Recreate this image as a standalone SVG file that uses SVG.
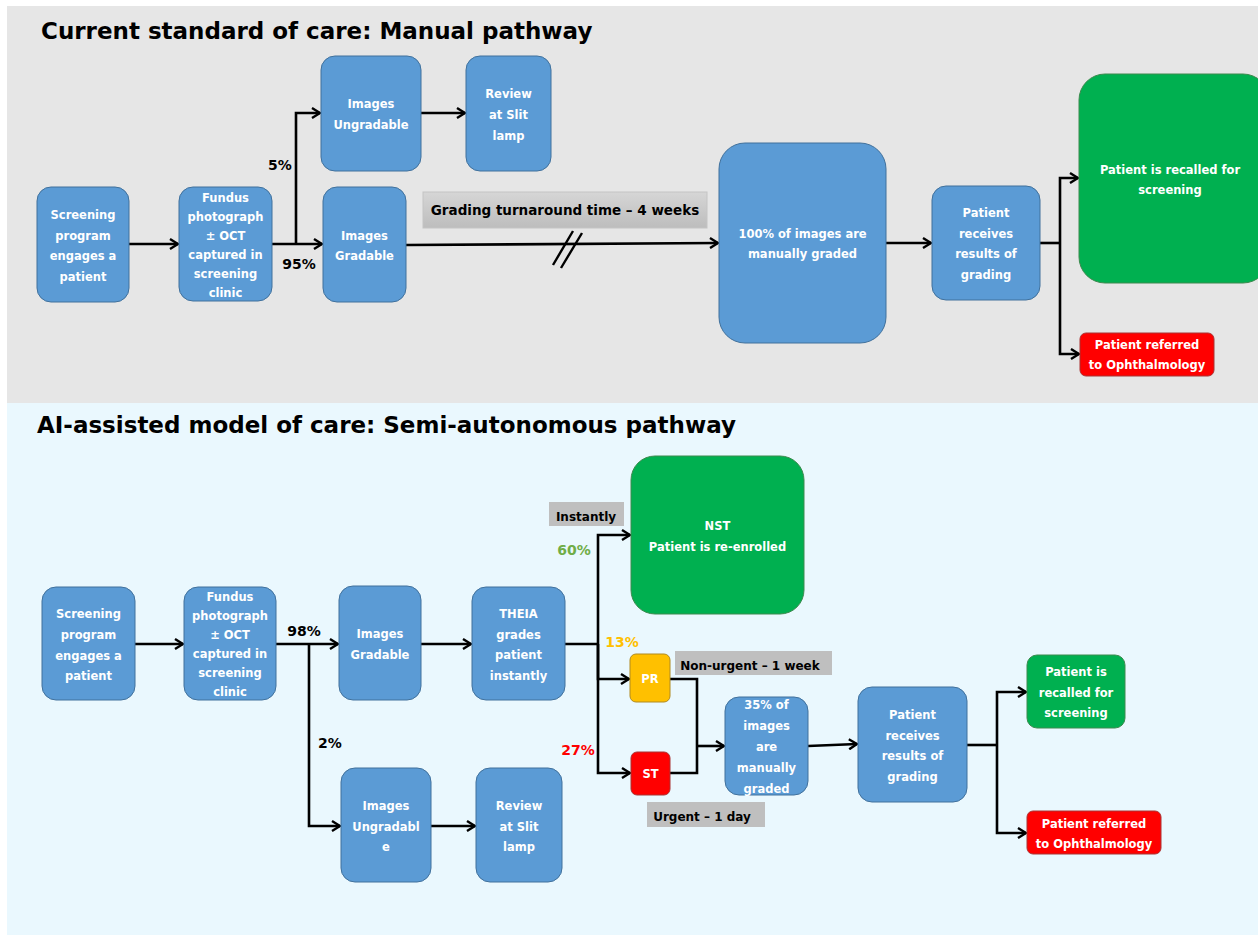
<svg xmlns="http://www.w3.org/2000/svg" width="1258" height="936" viewBox="0 0 1258 936">
<defs>
<marker id="arr" viewBox="0 0 10 12" refX="9" refY="6" markerWidth="10" markerHeight="12" markerUnits="userSpaceOnUse" orient="auto">
<path d="M1,1 L9,6 L1,11" fill="none" stroke="#000" stroke-width="2.4"/>
</marker>
<linearGradient id="gl" x1="0" y1="0" x2="0" y2="1">
<stop offset="0" stop-color="#d6d6d6"/><stop offset="1" stop-color="#bdbdbd"/>
</linearGradient>
</defs>
<style>
text{font-family:"DejaVu Sans",Verdana,sans-serif;font-weight:bold;}
.nt{fill:#fff;font-size:11.5px;text-anchor:middle;}
.bl{fill:#5b9bd5;stroke:#41719c;stroke-width:1;}
.gr{fill:#00b050;stroke:#3c8a4e;stroke-width:1;}
.rd{fill:#ff0000;stroke:#a33;stroke-width:1;}
.am{fill:#ffc000;stroke:#b08a20;stroke-width:1;}
.lb{fill:#bfbfbf;}
.lt{fill:#000;font-size:12px;}
.pc{font-size:14px;}
.title{font-size:23px;fill:#000;}
.c{fill:none;stroke:#000;stroke-width:2.6;}
.ca{fill:none;stroke:#000;stroke-width:2.6;marker-end:url(#arr);}
</style>
<rect x="0" y="0" width="1258" height="936" fill="#fff"/>
<rect x="7" y="6" width="1251" height="397" fill="#e6e6e6"/>
<rect x="7" y="403" width="1251" height="532" fill="#eaf8fe"/>
<text class="title" x="41" y="39">Current standard of care: Manual pathway</text>
<text class="title" x="37" y="433">AI-assisted model of care: Semi-autonomous pathway</text>

<g id="connectors">
<path class="ca" d="M129,244 L178,244"/>
<path class="ca" d="M272,244 L322,244"/>
<path class="ca" d="M296,244 L296,113 L320,113"/>
<path class="ca" d="M421,113 L465,113"/>
<path class="ca" d="M406,245 L718,243"/>
<path d="M553,265 L573,231 M561,268 L582,233" stroke="#000" stroke-width="2.4" fill="none"/>
<path class="ca" d="M886,243 L931,243"/>
<path class="c" d="M1040,243 L1060,243"/>
<path class="ca" d="M1060,243 L1060,178 L1078,178"/>
<path class="ca" d="M1060,243 L1060,354 L1079,354"/>

<path class="ca" d="M135,644 L183,644"/>
<path class="ca" d="M276,644 L338,644"/>
<path class="ca" d="M309,644 L309,826 L340,826"/>
<path class="ca" d="M431,826 L475,826"/>
<path class="ca" d="M421,644 L471,644"/>
<path class="c" d="M565,644 L598,644"/>
<path class="ca" d="M598,644 L598,535 L630,535"/>
<path class="ca" d="M598,644 L598,679 L629,679"/>
<path class="ca" d="M598,644 L598,773 L630,773"/>
<path class="c" d="M670,679 L697,679 L697,773 L670,773"/>
<path class="ca" d="M697,746 L724,746"/>
<path class="ca" d="M808,746 L857,744"/>
<path class="c" d="M967,745 L997,745"/>
<path class="ca" d="M997,745 L997,692 L1026,692"/>
<path class="ca" d="M997,745 L997,833 L1026,833"/>
</g>

<g id="lbl-pct">
<text class="pc" x="280" y="170" text-anchor="middle">5%</text>
<text class="pc" x="299" y="269" text-anchor="middle">95%</text>
<text class="pc" x="304" y="636" text-anchor="middle">98%</text>
<text class="pc" x="330" y="748" text-anchor="middle">2%</text>
<text class="pc" x="574" y="555" text-anchor="middle" fill="#70ad47">60%</text>
<text class="pc" x="622" y="647" text-anchor="middle" fill="#ffc000">13%</text>
<text class="pc" x="578" y="755" text-anchor="middle" fill="#ff0000">27%</text>
</g>

<g id="lbl-grading">
<rect x="423" y="192" width="284" height="36" fill="url(#gl)" stroke="#c4c4c4"/>
<text class="lt" x="565" y="215" text-anchor="middle" style="font-size:13.5px">Grading turnaround time – 4 weeks</text>
</g>
<g id="lbl-instantly">
<rect class="lb" x="549" y="502" width="75" height="24"/>
<text class="lt" x="586" y="521" text-anchor="middle">Instantly</text>
</g>
<g id="lbl-nonurgent">
<rect class="lb" x="675" y="651" width="157" height="24"/>
<text class="lt" x="750" y="670" text-anchor="middle">Non-urgent – 1 week</text>
</g>
<g id="lbl-urgent">
<rect class="lb" x="647" y="802" width="118" height="25"/>
<text class="lt" x="702" y="821" text-anchor="middle">Urgent – 1 day</text>
</g>

<!-- top nodes -->
<g id="t-screening">
<rect class="bl" x="37" y="187" width="92" height="115" rx="14"/>
<text class="nt" x="83" y="219">Screening</text><text class="nt" x="83" y="240">program</text><text class="nt" x="83" y="260">engages a</text><text class="nt" x="83" y="281">patient</text>
</g>
<g id="t-fundus">
<rect class="bl" x="179" y="187" width="93" height="114" rx="14"/>
<text class="nt" x="225.5" y="202">Fundus</text><text class="nt" x="225.5" y="221">photograph</text><text class="nt" x="225.5" y="240">± OCT</text><text class="nt" x="225.5" y="259">captured in</text><text class="nt" x="225.5" y="278">screening</text><text class="nt" x="225.5" y="297">clinic</text>
</g>
<g id="t-ungradable">
<rect class="bl" x="321" y="56" width="100" height="115" rx="14"/>
<text class="nt" x="371" y="108">Images</text><text class="nt" x="371" y="129">Ungradable</text>
</g>
<g id="t-review">
<rect class="bl" x="466" y="56" width="85" height="115" rx="14"/>
<text class="nt" x="508.5" y="98">Review</text><text class="nt" x="508.5" y="119">at Slit</text><text class="nt" x="508.5" y="140">lamp</text>
</g>
<g id="t-gradable">
<rect class="bl" x="323" y="187" width="83" height="115" rx="14"/>
<text class="nt" x="364.5" y="240">Images</text><text class="nt" x="364.5" y="260">Gradable</text>
</g>
<g id="t-manual">
<rect class="bl" x="719" y="143" width="167" height="200" rx="26"/>
<text class="nt" x="802.5" y="238">100% of images are</text><text class="nt" x="802.5" y="258">manually graded</text>
</g>
<g id="t-receives">
<rect class="bl" x="932" y="186" width="108" height="114" rx="14"/>
<text class="nt" x="986" y="217">Patient</text><text class="nt" x="986" y="238">receives</text><text class="nt" x="986" y="258">results of</text><text class="nt" x="986" y="279">grading</text>
</g>
<g id="t-recall">
<rect class="gr" x="1079" y="74" width="190" height="209" rx="26"/>
<text class="nt" x="1170" y="174">Patient is recalled for</text><text class="nt" x="1170" y="194">screening</text>
</g>
<g id="t-referral">
<rect class="rd" x="1080" y="333" width="134" height="43" rx="6"/>
<text class="nt" x="1147" y="349">Patient referred</text><text class="nt" x="1147" y="369">to Ophthalmology</text>
</g>

<!-- bottom nodes -->
<g id="b-screening">
<rect class="bl" x="42" y="587" width="93" height="113" rx="14"/>
<text class="nt" x="88.5" y="618">Screening</text><text class="nt" x="88.5" y="639">program</text><text class="nt" x="88.5" y="660">engages a</text><text class="nt" x="88.5" y="680">patient</text>
</g>
<g id="b-fundus">
<rect class="bl" x="184" y="587" width="92" height="113" rx="14"/>
<text class="nt" x="230" y="601">Fundus</text><text class="nt" x="230" y="620">photograph</text><text class="nt" x="230" y="639">± OCT</text><text class="nt" x="230" y="658">captured in</text><text class="nt" x="230" y="677">screening</text><text class="nt" x="230" y="696">clinic</text>
</g>
<g id="b-gradable">
<rect class="bl" x="339" y="586" width="82" height="114" rx="14"/>
<text class="nt" x="380" y="638">Images</text><text class="nt" x="380" y="659">Gradable</text>
</g>
<g id="b-theia">
<rect class="bl" x="472" y="587" width="93" height="113" rx="14"/>
<text class="nt" x="518.5" y="618">THEIA</text><text class="nt" x="518.5" y="639">grades</text><text class="nt" x="518.5" y="659">patient</text><text class="nt" x="518.5" y="680">instantly</text>
</g>
<g id="b-nst">
<rect class="gr" x="631" y="456" width="173" height="158" rx="24"/>
<text class="nt" x="717.5" y="530">NST</text><text class="nt" x="717.5" y="551">Patient is re-enrolled</text>
</g>
<g id="b-pr">
<rect class="am" x="630" y="654" width="40" height="48" rx="6"/>
<text class="nt" x="650" y="683">PR</text>
</g>
<g id="b-st">
<rect class="rd" x="631" y="752" width="39" height="43" rx="6"/>
<text class="nt" x="650.5" y="778">ST</text>
</g>
<g id="b-manual">
<rect class="bl" x="725" y="697" width="83" height="98" rx="14"/>
<text class="nt" x="766.5" y="709">35% of</text><text class="nt" x="766.5" y="730">images</text><text class="nt" x="766.5" y="751">are</text><text class="nt" x="766.5" y="772">manually</text><text class="nt" x="766.5" y="793">graded</text>
</g>
<g id="b-receives">
<rect class="bl" x="858" y="687" width="109" height="115" rx="14"/>
<text class="nt" x="912.5" y="719">Patient</text><text class="nt" x="912.5" y="740">receives</text><text class="nt" x="912.5" y="760">results of</text><text class="nt" x="912.5" y="781">grading</text>
</g>
<g id="b-recall">
<rect class="gr" x="1027" y="655" width="98" height="73" rx="10"/>
<text class="nt" x="1076" y="676">Patient is</text><text class="nt" x="1076" y="697">recalled for</text><text class="nt" x="1076" y="717">screening</text>
</g>
<g id="b-referral">
<rect class="rd" x="1027" y="811" width="134" height="43" rx="6"/>
<text class="nt" x="1094" y="828">Patient referred</text><text class="nt" x="1094" y="848">to Ophthalmology</text>
</g>
<g id="b-ungradable">
<rect class="bl" x="341" y="768" width="90" height="114" rx="14"/>
<text class="nt" x="386" y="810">Images</text><text class="nt" x="386" y="831">Ungradabl</text><text class="nt" x="386" y="851">e</text>
</g>
<g id="b-review">
<rect class="bl" x="476" y="768" width="86" height="114" rx="14"/>
<text class="nt" x="519" y="810">Review</text><text class="nt" x="519" y="831">at Slit</text><text class="nt" x="519" y="851">lamp</text>
</g>
</svg>
